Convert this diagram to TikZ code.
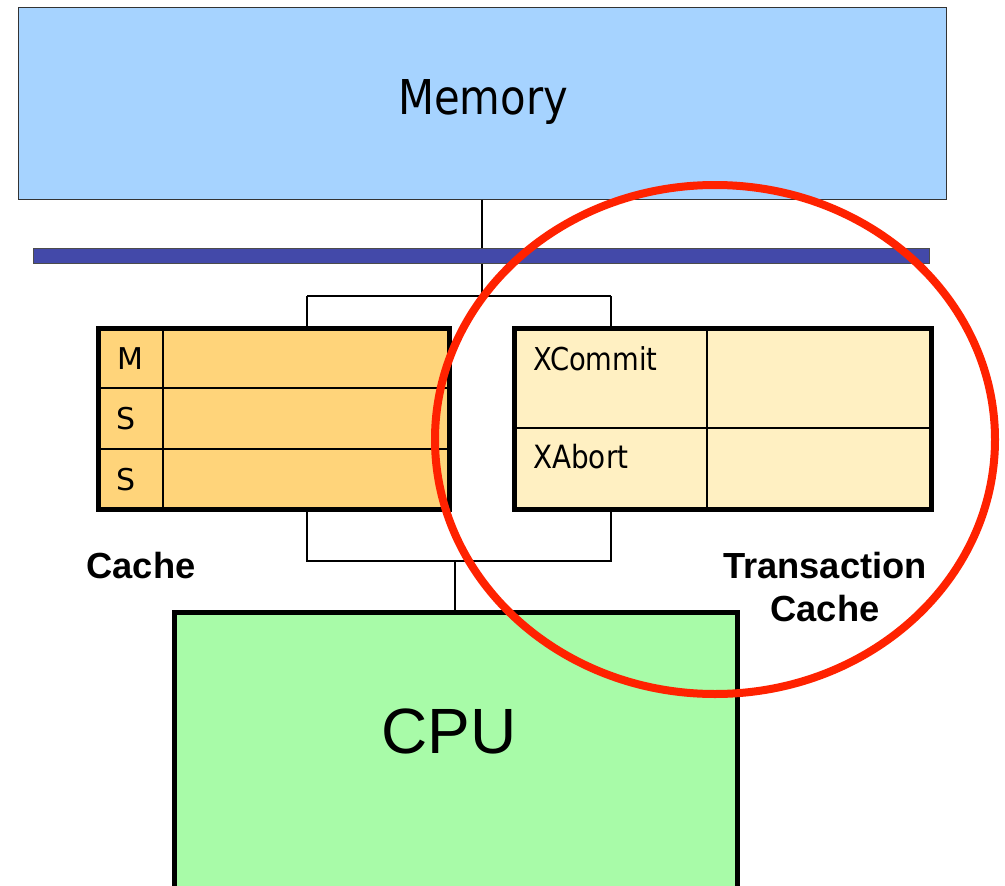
\documentclass[tikz,border=0pt]{standalone}
\usepackage{fontspec}
\setmainfont{Liberation Sans}
\newfontfamily\tahoma[FakeStretch=0.87]{DejaVu Sans}
\newfontfamily\tahomawide{DejaVu Sans}
\definecolor{memblue}{HTML}{A6D3FF}
\definecolor{busblue}{HTML}{4349A9}
\definecolor{cacheorange}{HTML}{FFD47A}
\definecolor{tcyellow}{HTML}{FFF0C2}
\definecolor{cpugreen}{HTML}{A8FBA8}
\definecolor{ringred}{HTML}{FF2200}
\tikzset{
  thinline/.style={line width=1.5pt, draw=black},
  thickbox/.style={draw=black, line width=5pt, inner sep=0pt, outer sep=0pt, rectangle},
  divline/.style={line width=2pt, draw=black},
  tlabel/.style={inner sep=0pt, anchor=base west, font=\tahomawide\fontsize{30}{36}\selectfont},
  blabel/.style={inner sep=0pt, anchor=base, font=\bfseries\fontsize{36.3}{43.7}\selectfont}
}
\begin{document}
\begin{tikzpicture}[x=1pt,y=-1pt]
\useasboundingbox (0,0) rectangle (1005,886);
\clip (0,0) rectangle (1005,886);
% connector coordinates
\coordinate (j1) at (482,296);
\coordinate (jl) at (307,296);
\coordinate (jr) at (611,296);
\coordinate (kl) at (307,561);
\coordinate (kr) at (611,561);
\coordinate (jb) at (455,561);
% memory
\node[rectangle, draw=black!80, line width=1.5pt, fill=memblue, minimum width=928pt, minimum height=192pt, inner sep=0pt, outer sep=0pt] (memory) at (482.5,103.5) {};
\node[inner sep=0pt, anchor=base, font=\tahoma\fontsize{48}{56}\selectfont] (memtxt) at (483,114) {Memory};
% connectors
\draw[thinline] (memory.south -| j1) -- (j1);
\draw[thinline] (jl) -- (jr);
% bus
\node[rectangle, draw=black!70, line width=1.5pt, fill=busblue, minimum width=896pt, minimum height=15pt, inner sep=0pt, outer sep=0pt] (bus) at (481.5,256) {};
% cache
\node[thickbox, fill=cacheorange, minimum width=351pt, minimum height=181pt] (cache) at (274,419) {};
\draw[thinline] (jl) -- (cache.north -| jl);
\draw[thinline] (cache.south -| kl) -- (kl) -- (kr) -- (kr |- cache.south);
\draw[divline] (163,328.5) -- (163,509.5);
\draw[divline] (98.5,388) -- (449.5,388);
\draw[divline] (98.5,449) -- (449.5,449);
\node[tlabel] (m) at (117,369) {M};
\node[tlabel] (s1) at (116,429) {S};
\node[tlabel] (s2) at (116,490) {S};
% transaction cache
\node[thickbox, fill=tcyellow, minimum width=417pt, minimum height=181pt] (tcache) at (723,419) {};
\draw[thinline] (jr) -- (tcache.north -| jr);
\draw[divline] (707,328.5) -- (707,509.5);
\draw[divline] (514.5,428) -- (931.5,428);
\node[tlabel, font=\tahoma\fontsize{31.5}{36}\selectfont] (xc) at (533,370) {XCommit};
\node[tlabel, font=\tahoma\fontsize{32}{36}\selectfont] (xa) at (533,468) {XAbort};
% CPU
\node[thickbox, fill=cpugreen, minimum width=563pt, minimum height=300pt, anchor=north] (cpu) at (456,612.5) {};
\draw[thinline] (jb) -- (cpu.north -| jb);
\node[inner sep=0pt, anchor=base, font=\fontsize{64}{72}\selectfont] (cputxt) at (449,753) {CPU};
% labels
\node[blabel] (cachelbl) at (141,578) {Cache};
\node[blabel] (tclbl1) at (825,578) {Transaction};
\node[blabel] (tclbl2) at (825,621.7) {Cache};
% red ring
\draw[ringred, line width=8pt] (715,439.5) ellipse [x radius=280, y radius=254.5];
\end{tikzpicture}
\end{document}
